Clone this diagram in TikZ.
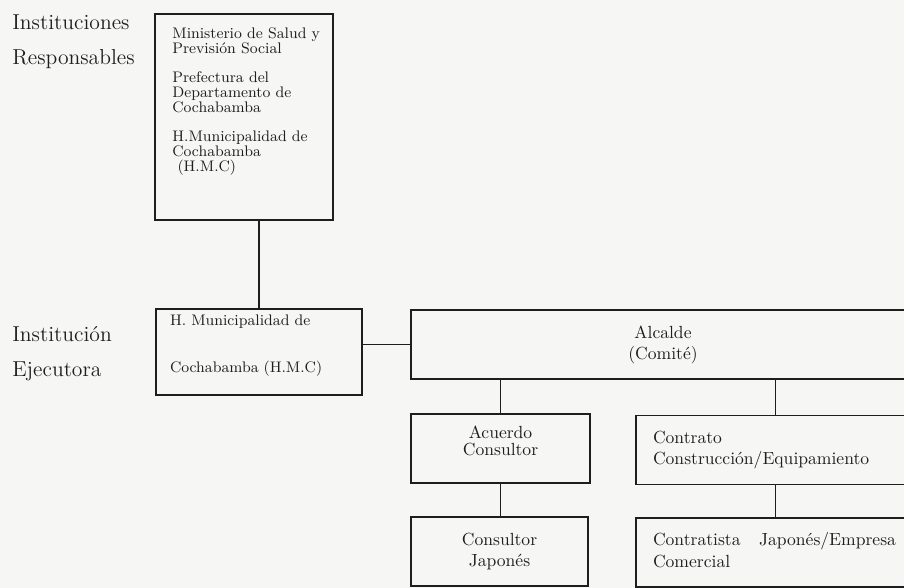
\documentclass[tikz,border=0pt]{standalone}
\usetikzlibrary{calc}
\definecolor{paper}{RGB}{246,246,245}
\definecolor{ink}{RGB}{30,30,30}
\newcommand{\boxfont}{\fontsize{8.7}{8.5}\selectfont}
\newcommand{\bigboxfont}{\fontsize{10}{10}\selectfont}
\newcommand{\lblfont}{\fontsize{12.3}{20}\selectfont}
\begin{document}
\begin{tikzpicture}[
  x=0.02cm, y=-0.02cm,
  org/.style={draw=ink, line width=1pt, text=ink, font=\boxfont, inner sep=0pt, minimum height=1.38cm},
  big/.style={font=\bigboxfont},
  lbl/.style={text=ink, font=\lblfont, align=left, inner sep=0pt, anchor=north west},
  conn/.style={draw=ink, line width=0.8pt}
]
\fill[paper] (0,0) rectangle (904,588);
\useasboundingbox (0,0) rectangle (904,588);

\node[lbl] (l1) at (12,14) {Instituciones\\Responsables};
\node[lbl] (l2) at (12,326) {Institución\\Ejecutora};

\node[org, minimum width=3.56cm, minimum height=4.12cm] (r1) at (244,117) {};
\node[text=ink, font=\boxfont, align=left, inner sep=0pt, anchor=north west] (r1t) at (172,27)
  {Ministerio de Salud y\\Previsión Social\\[8.5pt]Prefectura del\\Departamento de\\Cochabamba\\[8pt]H.Municipalidad de\\Cochabamba\\\ (H.M.C)};

\node[org, minimum width=4.12cm, minimum height=1.72cm, text width=3.56cm, align=left] (e1) at (259,352)
  {H. Municipalidad de\\[18.3pt]Cochabamba (H.M.C)\\[1pt]\mbox{}};
\node[org, big, minimum width=10.08cm, align=center] (a1) at (663,344.5) {Alcalde\\[2pt](Comité)};

\node[org, big, minimum width=3.58cm, align=center] (c1) at (500.5,448.5) {Acuerdo\\Consultor\\[-1pt]\mbox{}};
\node[org, big, minimum width=3.54cm, align=center] (c2) at (499.5,551.5) {Consultor\\[2.5pt]Japonés};

\node[org, big, minimum width=5.58cm, text width=4.9cm, align=left] (k1) at (775.5,450)
  {Contrato\\[2.5pt]Construcción/Equipamiento};
\node[org, big, minimum width=5.58cm, text width=4.9cm, align=left] (k2) at (775.5,552.5)
  {\hbox to 4.86cm{Contratista\hfill Japonés/Empresa}\\[2.5pt]Comercial\\[-6.6pt]\mbox{}};

\draw[conn] (e1.north) -- (e1.north |- r1.south);
\draw[conn] (a1.west -| e1.east) -- (a1.west);
\draw[conn] (c1.north) -- (c1.north |- a1.south);
\draw[conn] (k1.north) -- (k1.north |- a1.south);
\draw[conn] (c1.south) -- (c1.south |- c2.north);
\draw[conn] (k1.south) -- (k2.north);
\end{tikzpicture}
\end{document}
